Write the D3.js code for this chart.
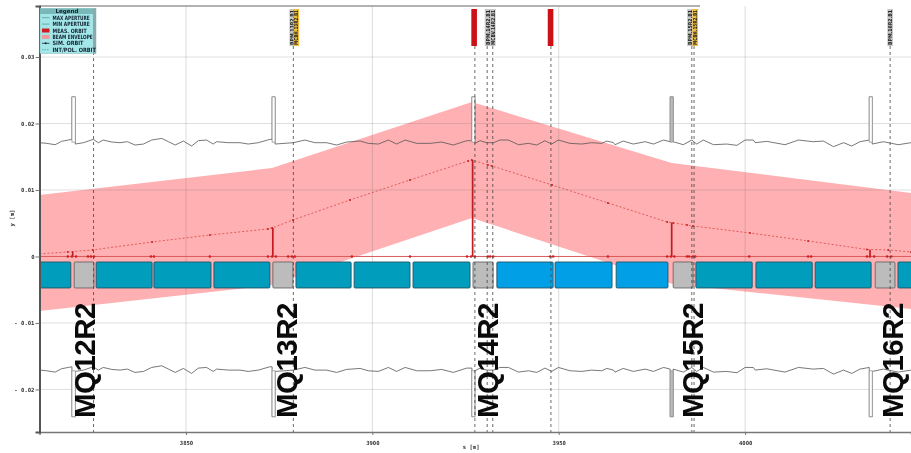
<!DOCTYPE html>
<html>
<head>
<meta charset="utf-8">
<title>Aperture and orbit, MQ12R2 to MQ16R2</title>
<script src="https://cdn.jsdelivr.net/npm/d3@7"></script>
<style>
  html, body { margin: 0; padding: 0; background: #fff; overflow: hidden; }
  #chart { display: block; filter: blur(0.55px); }
  text { font-family: "DejaVu Sans", sans-serif; }
  .tick-label { font-family: "DejaVu Sans Mono", monospace; font-size: 5.6px; font-weight: bold; fill: #333; }
  .magnet-label { font-family: "Liberation Sans", Arial, sans-serif; font-size: 29.5px; font-weight: bold; fill: #0a0a0a; }
</style>
</head>
<body>
<svg id="chart" width="911" height="453"></svg>
<script>
// ─── Aperture (s in m, y in m) ───────────────────────────
const apertureS = [
  3810.8, 3812.6, 3814.9, 3816.6, 3818.4, 3819.4, 3819.4, 3820.3, 3820.3, 3822.5, 3825.1, 3826.5, 3827.8, 3830.1,
  3832.3, 3834.3, 3836.3, 3838.6, 3840.8, 3843.5, 3845.3, 3847.1, 3849.3, 3851.5, 3853.3, 3855.5, 3857.3, 3858.2,
  3861.4, 3864.5, 3866.7, 3869.4, 3872.5, 3873.1, 3873.1, 3873.9, 3873.9, 3878.8, 3881.9, 3884.6, 3887.7, 3890.4,
  3893.1, 3896.7, 3898.9, 3901.6, 3904.3, 3906.5, 3908.8, 3911.9, 3915.5, 3918.6, 3921.7, 3925.3, 3926.7, 3926.7,
  3927.5, 3927.5, 3928.9, 3930.7, 3932.5, 3934.2, 3936.5, 3939.2, 3941.9, 3944.1, 3946.3, 3948.1, 3949.9, 3953.0,
  3956.2, 3958.8, 3961.5, 3962.9, 3964.7, 3965.1, 3967.3, 3970.0, 3973.2, 3975.4, 3978.1, 3979.9, 3979.9, 3980.7,
  3980.7, 3983.4, 3985.7, 3987.0, 3988.8, 3991.5, 3995.1, 3997.8, 4000.0, 4002.2, 4002.7, 4005.8, 4010.7, 4014.3,
  4018.3, 4021.0, 4023.7, 4026.4, 4028.6, 4030.8, 4033.3, 4033.3, 4034.1, 4034.1, 4037.1, 4039.3, 4041.1, 4044.5
];
const maxAperture = [
  .01711, .01701, .01681, .01731, .01751, .01761, .0240, .0240, .01691, .01711, .01761, .01711, .01751, .01721,
  .01711, .01726, .01676, .01691, .01751, .01776, .01726, .01676, .01736, .01661, .01741, .01751, .01691, .01726,
  .01711, .01711, .01691, .01711, .01761, .01761, .0240, .0240, .01691, .01711, .01751, .01711, .01711, .01676,
  .01721, .01736, .01701, .01691, .01751, .01691, .01751, .01701, .01701, .01721, .01676, .01741, .01741, .0240,
  .0240, .01701, .01741, .01711, .01711, .01751, .01751, .01681, .01701, .01676, .01741, .01691, .01751, .01701,
  .01691, .01711, .01701, .01736, .01711, .01681, .01736, .01691, .01726, .01691, .01751, .01726, .0240, .0240,
  .01726, .01681, .01751, .01691, .01751, .01681, .01691, .01671, .01751, .01751, .01711, .01731, .01681, .01751,
  .01726, .01736, .01651, .01711, .01661, .01726, .01751, .0240, .0240, .01691, .01726, .01701, .01681, .01711
];
const minAperture = [
  -.01709, -.01719, -.01739, -.01689, -.01669, -.01659, -.0241, -.0241, -.01729, -.01709, -.01659, -.01709, -.01669, -.01699,
  -.01709, -.01694, -.01744, -.01729, -.01669, -.01644, -.01694, -.01744, -.01684, -.01759, -.01679, -.01669, -.01729, -.01694,
  -.01709, -.01709, -.01729, -.01709, -.01659, -.01659, -.0241, -.0241, -.01729, -.01709, -.01669, -.01709, -.01709, -.01744,
  -.01699, -.01684, -.01719, -.01729, -.01669, -.01729, -.01669, -.01719, -.01719, -.01699, -.01744, -.01679, -.01679, -.0241,
  -.0241, -.01719, -.01679, -.01709, -.01709, -.01669, -.01669, -.01739, -.01719, -.01744, -.01679, -.01729, -.01669, -.01719,
  -.01729, -.01709, -.01719, -.01684, -.01709, -.01739, -.01684, -.01729, -.01694, -.01729, -.01669, -.01694, -.0241, -.0241,
  -.01694, -.01739, -.01669, -.01729, -.01669, -.01739, -.01729, -.01749, -.01669, -.01669, -.01709, -.01689, -.01739, -.01669,
  -.01694, -.01684, -.01769, -.01709, -.01759, -.01694, -.01669, -.0241, -.0241, -.01729, -.01694, -.01719, -.01739, -.01709
];
// narrow aperture restrictions: start, end and drawn solid or open
const spikeStart = [3819.4, 3873.1, 3926.7, 3979.9, 4033.3];
const spikeEnd = [3820.3, 3873.9, 3927.5, 3980.7, 4034.1];
const spikeFill = ['#fff', '#fff', '#fff', '#bbb', '#fff'];
const spikeTop = .0240;
const spikeBase = .0172;
const spikeBottom = -.0241;
const spikeBaseLow = -.0172;

// ─── Beam envelope ───────────────────────────────────────
const envelopeS = [3810.7, 3873.1, 3926.7, 3980.3, 4044.5];
const envelopeUpper = [.00925, .0133, .02323, .01406, .00955];
const envelopeLower = [-.0082, -.0043, .0058, -.0041, -.0079];

// ─── Orbit ───────────────────────────────────────────────
const orbitS = [
  3810.7, 3818.3, 3825.0, 3840.9, 3856.4, 3872.0, 3873.1, 3878.7, 3894.0, 3910.1, 3925.7, 3926.7,
  3931.0, 3932.1, 3948.2, 3963.2, 3979.1, 3980.7, 3984.4, 3986.0, 4001.3, 4016.9, 4032.7, 4038.4, 4044.5
];
const orbitY = [
  .00038, .00068, .00098, .00218, .00323, .00414, .00429, .00549, .0085, .0115, .01436, .01451,
  .01376, .01361, .01075, .00805, .00519, .00504, .00474, .00459, .00353, .00233, .00105, .00098, .00068
];
const measuredS = [3819.6, 3873.3, 3926.9, 3980.3, 4033.5];
const measuredY = [.0008, .0043, .0145, .0051, .0010];
const zeroMarkS = [
  3818.3, 3819.4, 3820.5, 3823.7, 3824.5, 3825.3, 3840.6, 3841.4, 3856.4, 3872.0, 3873.1, 3874.1, 3877.4, 3878.4, 3879.2,
  3894.5, 3910.1, 3925.4, 3926.5, 3927.5, 3931.0, 3931.6, 3932.4, 3947.7, 3948.5, 3963.2, 3979.1, 3980.1, 3981.0,
  3984.4, 3985.0, 3986.0, 3986.6, 4001.1, 4016.9, 4017.7, 4032.7, 4033.5, 4034.6, 4038.1, 4039.2
];

// ─── Lattice elements ────────────────────────────────────
const boxStart = [3810.8, 3820.0, 3825.9, 3841.4, 3857.5, 3873.3, 3879.5, 3895.1, 3910.9, 3927.0, 3933.4, 3949.0, 3965.4, 3980.7, 3986.8, 4002.9, 4018.8, 4034.9, 4041.0];
const boxEnd = [3819.1, 3825.3, 3840.9, 3856.7, 3872.5, 3878.7, 3894.3, 3910.1, 3926.2, 3932.4, 3948.5, 3964.3, 3979.3, 3986.0, 4001.9, 4018.0, 4033.8, 4040.2, 4046.0];
const boxKind = ['dipole', 'quad', 'dipole', 'dipole', 'dipole', 'quad', 'dipole', 'dipole', 'dipole', 'quad', 'blue', 'blue', 'blue', 'quad', 'dipole', 'dipole', 'dipole', 'quad', 'dipole'];
const boxTop = -.00083;
const boxBottom = -.00474;

const dashedS = [3825.2, 3878.8, 3927.5, 3930.8, 3932.3, 3947.9, 3985.7, 3986.3, 4038.9];

// tags along the top of the plot
const tagS = [3878.5, 3879.6, 3927.3, 3930.9, 3932.3, 3947.8, 3985.2, 3986.6, 4038.9];
const tagKind = ['gray', 'yellow', 'red', 'gray', 'gray', 'red', 'gray', 'yellow', 'gray'];
const tagText = ['BPM.13R2.B1', 'MCBH.13R2.B1', '', 'BPM.14R2.B1', 'MCBV.14R2.B1', '', 'BPM.15R2.B1', 'MCBH.15R2.B1', 'BPM.16R2.B1'];

const magnetNames = ['MQ12R2', 'MQ13R2', 'MQ14R2', 'MQ15R2', 'MQ16R2'];
const magnetS = [3825.7, 3879.8, 3933.7, 3988.8, 4042.3];

const xTicks = [3850, 3900, 3950, 4000];
const yTicks = [-.02, -.01, 0, .01, .02, .03];

const legendLabels = ['MAX APERTURE', 'MIN APERTURE', 'MEAS. ORBIT', 'BEAM ENVELOPE', 'SIM. ORBIT', 'INT/POL. ORBIT'];

// ─── Colours ─────────────────────────────────────────────
const BOX_FILL = { dipole: '#009dbd', quad: '#bcbcbc', blue: '#009fe6' };
const TAG_FILL = { gray: '#c6c6c6', yellow: '#eebd3e', red: '#cc1018' };
const RED = '#cc2222';

const W = 911, H = 453;
const PLOT = { left: 39.5, right: 911, top: 6, bottom: 432 };

const svg = d3.select('#chart');

const x = d3.scaleLinear().domain([3810.7, 4044.5]).range([PLOT.left, PLOT.right]);
const y = d3.scaleLinear().domain([-0.0264, 0.03767]).range([PLOT.bottom, PLOT.top]);

svg.append('rect').attr('width', W).attr('height', H).attr('fill', '#fff');

svg.append('clipPath').attr('id', 'plot-clip').append('rect')
  .attr('x', PLOT.left).attr('y', PLOT.top)
  .attr('width', PLOT.right - PLOT.left).attr('height', PLOT.bottom - PLOT.top);

const plot = svg.append('g').attr('clip-path', 'url(#plot-clip)');

// Beam envelope
const envArea = d3.area()
  .x((d, i) => x(envelopeS[i]))
  .y0((d, i) => y(envelopeLower[i]))
  .y1((d, i) => y(envelopeUpper[i]));
plot.append('path').datum(envelopeS).attr('d', envArea).attr('fill', '#ffb0b2');

// Grid shows through the envelope
plot.selectAll('.grid-x').data(xTicks).enter().append('line')
  .attr('x1', d => x(d)).attr('x2', d => x(d))
  .attr('y1', PLOT.top).attr('y2', PLOT.bottom)
  .attr('stroke', 'rgba(110,110,110,0.24)').attr('stroke-width', 1);
plot.selectAll('.grid-y').data(yTicks.filter(d => d !== 0)).enter().append('line')
  .attr('x1', PLOT.left).attr('x2', PLOT.right)
  .attr('y1', d => y(d)).attr('y2', d => y(d))
  .attr('stroke', 'rgba(110,110,110,0.22)').attr('stroke-width', 1);

// Aperture lines
const apertureLine = vals => d3.line()
  .x((d, i) => x(apertureS[i]))
  .y((d, i) => y(vals[i]))(apertureS);

[maxAperture, minAperture].forEach(vals => {
  plot.append('path').attr('d', apertureLine(vals))
    .attr('fill', 'none').attr('stroke', '#555').attr('stroke-width', 0.8);
});

// Restrictions are paler than the aperture line, one of them solid
spikeStart.forEach((s, i) => {
  plot.append('rect')
    .attr('x', x(s)).attr('width', x(spikeEnd[i]) - x(s))
    .attr('y', y(spikeTop)).attr('height', y(spikeBase) - y(spikeTop))
    .attr('fill', spikeFill[i]).attr('stroke', '#999').attr('stroke-width', 0.8);
  plot.append('rect')
    .attr('x', x(s)).attr('width', x(spikeEnd[i]) - x(s))
    .attr('y', y(spikeBaseLow)).attr('height', y(spikeBottom) - y(spikeBaseLow))
    .attr('fill', spikeFill[i]).attr('stroke', '#999').attr('stroke-width', 0.8);
});

// Lattice boxes
plot.selectAll('.box').data(boxStart).enter().append('rect')
  .attr('x', d => x(d))
  .attr('y', y(boxTop))
  .attr('width', (d, i) => x(boxEnd[i]) - x(d))
  .attr('height', y(boxBottom) - y(boxTop))
  .attr('rx', 1)
  .attr('fill', (d, i) => BOX_FILL[boxKind[i]])
  .attr('stroke', (d, i) => boxKind[i] === 'quad' ? '#666' : '#245566')
  .attr('stroke-width', 0.9);

// Zero line
plot.append('line')
  .attr('x1', PLOT.left).attr('x2', PLOT.right)
  .attr('y1', y(0)).attr('y2', y(0))
  .attr('stroke', '#d85a5a').attr('stroke-width', 1);

// Simulated orbit
plot.append('path')
  .attr('d', d3.line().x((d, i) => x(orbitS[i])).y((d, i) => y(orbitY[i]))(orbitS))
  .attr('fill', 'none').attr('stroke', RED).attr('stroke-width', 0.6)
  .attr('stroke-dasharray', '2 2');
plot.selectAll('.orbit-dot').data(orbitS).enter().append('circle')
  .attr('cx', d => x(d)).attr('cy', (d, i) => y(orbitY[i])).attr('r', 1).attr('fill', RED);

// Measured orbit stems
plot.selectAll('.stem').data(measuredS).enter().append('line')
  .attr('x1', d => x(d)).attr('x2', d => x(d))
  .attr('y1', y(0)).attr('y2', (d, i) => y(measuredY[i]))
  .attr('stroke', '#c41a22').attr('stroke-width', 1.7);

plot.selectAll('.zero-dot').data(zeroMarkS).enter().append('circle')
  .attr('cx', d => x(d)).attr('cy', y(0)).attr('r', 1.3).attr('fill', RED);

// Dashed markers down to the axis
const tagBottom = 46;
plot.selectAll('.marker').data(dashedS).enter().append('line')
  .attr('x1', d => x(d)).attr('x2', d => x(d))
  .attr('y1', tagBottom).attr('y2', PLOT.bottom)
  .attr('stroke', '#444').attr('stroke-width', 0.8)
  .attr('stroke-dasharray', '3 3');

// Axes frame
svg.append('line').attr('x1', PLOT.left).attr('x2', 700).attr('y1', PLOT.top).attr('y2', PLOT.top)
  .attr('stroke', '#999').attr('stroke-width', 1.4);

const xAxis = svg.append('g')
  .attr('transform', `translate(0,${PLOT.bottom})`)
  .call(d3.axisBottom(x).tickValues(xTicks).tickFormat(d3.format('d')).tickSizeOuter(0).tickSize(3).tickPadding(6));
const yAxis = svg.append('g')
  .attr('transform', `translate(${PLOT.left},0)`)
  .call(d3.axisLeft(y).tickValues(yTicks).tickSizeOuter(0).tickSize(4).tickPadding(1)
    .tickFormat(d => d === 0 ? '0' : d < 0 ? '- ' + d3.format('.2f')(-d) : d3.format('.2f')(d)));

xAxis.select('.domain').attr('stroke', '#777').attr('stroke-width', 1.4);
yAxis.select('.domain').attr('stroke', '#555').attr('stroke-width', 2);
svg.selectAll('.tick line').attr('stroke', '#777');
svg.selectAll('.tick text').attr('class', 'tick-label');

svg.append('text').attr('class', 'tick-label')
  .attr('x', x(3926.5)).attr('y', 449).attr('text-anchor', 'middle').text('s [m]');
svg.append('text').attr('class', 'tick-label')
  .attr('transform', 'translate(14,218) rotate(-90)').attr('text-anchor', 'middle').text('y [m]');

// Tags
const tags = svg.append('g');
tagS.forEach((s, i) => {
  const t = tags.append('g').attr('transform', `translate(${x(s)},0)`);
  t.append('rect')
    .attr('x', -2.8).attr('y', 9).attr('width', 5.6).attr('height', tagBottom - 9)
    .attr('fill', TAG_FILL[tagKind[i]]);
  if (tagText[i]) {
    t.append('text')
      .attr('transform', `translate(2,${tagBottom - 1}) rotate(-90)`)
      .attr('font-size', 5.4).attr('font-weight', 'bold').attr('fill', '#222')
      .attr('textLength', 35).attr('lengthAdjust', 'spacingAndGlyphs')
      .text(tagText[i]);
  }
});

// Legend
const legend = svg.append('g').attr('transform', 'translate(40,8.5)');
legend.append('rect').attr('width', 56).attr('height', 45).attr('fill', '#a3e6e8').attr('stroke', '#7fb9bb').attr('stroke-width', 0.5);
legend.append('rect').attr('width', 56).attr('height', 5.5).attr('fill', '#79b8b8');
legend.append('rect').attr('x', 53).attr('width', 3).attr('height', 45).attr('fill', '#8da9a9');
legend.append('text').attr('x', 27).attr('y', 4.8).attr('text-anchor', 'middle')
  .attr('font-size', 5.6).attr('font-weight', 'bold').attr('fill', '#123').text('Legend');

legendLabels.forEach((label, i) => {
  const rowY = 9.2 + i * 6.4;
  legend.append('text').attr('x', 12.5).attr('y', rowY + 2)
    .attr('font-size', 5.8).attr('font-weight', 'bold').attr('fill', '#123')
    .attr('textLength', label.length * 3.1).attr('lengthAdjust', 'spacingAndGlyphs')
    .text(label);
  if (i === 2 || i === 3) {
    legend.append('rect').attr('x', 2).attr('y', rowY - 2).attr('width', 7.5).attr('height', 4)
      .attr('fill', i === 2 ? '#d01c20' : '#f09a9c');
  } else {
    legend.append('line').attr('x1', 2).attr('x2', 9.5).attr('y1', rowY).attr('y2', rowY)
      .attr('stroke', i === 4 ? '#223' : '#5a9a9c').attr('stroke-width', 0.8)
      .attr('stroke-dasharray', i === 5 ? '1.5 1' : null);
    if (i === 4) legend.append('circle').attr('cx', 5.7).attr('cy', rowY).attr('r', 1).attr('fill', '#223');
  }
});

// Big magnet names
svg.selectAll('.magnet-label').data(magnetNames).enter().append('text')
  .attr('class', 'magnet-label')
  .attr('transform', (d, i) => `translate(${x(magnetS[i])},418) rotate(-90)`)
  .attr('textLength', 115.5)
  .text(d => d);
</script>
</body>
</html>
